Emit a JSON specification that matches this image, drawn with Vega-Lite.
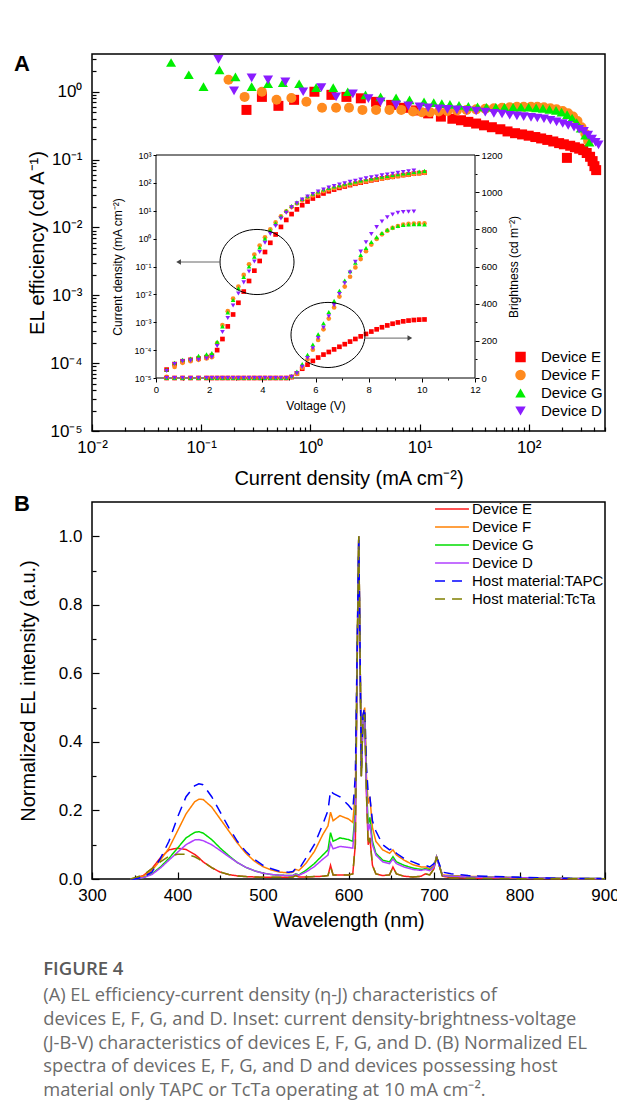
{
"$schema": "https://vega.github.io/schema/vega-lite/v6.json",
"background": "white",
"padding": {"left": 13, "top": 49, "right": 13, "bottom": 10},
"bounds": "flush",
"spacing": 71,
"resolve": {"scale": {"color": "independent", "shape": "independent", "strokeDash": "independent", "strokeWidth": "independent"}, "legend": {"color": "independent", "shape": "independent", "strokeDash": "independent", "strokeWidth": "independent"}},
"config": {
 "view": {"stroke": "black", "strokeWidth": 1.5},
 "axis": {"domain": false, "grid": false, "ticks": true, "tickColor": "black", "labelColor": "black", "titleColor": "black", "labelFont": "Liberation Sans", "titleFont": "Liberation Sans", "titleFontWeight": "normal", "labelFlush": false, "labelOverlap": false, "tickWidth": 1.2},
 "legend": {"labelFont": "Liberation Sans", "labelColor": "black"}
},
"title": {
 "text": "FIGURE 4",
 "subtitle": ["(A) EL efficiency-current density (η-J) characteristics of", "devices E, F, G, and D. Inset: current density-brightness-voltage", "(J-B-V) characteristics of devices E, F, G, and D. (B) Normalized EL", "spectra of devices E, F, G, and D and devices possessing host", "material only TAPC or TcTa operating at 10 mA cm⁻²."],
 "orient": "bottom", "anchor": "start", "frame": "bounds", "offset": 29, "dx": 30,
 "font": "Open Sans", "fontSize": 18.5, "fontWeight": 600, "color": "#5a5a5a",
 "subtitleFont": "Open Sans", "subtitleFontSize": 18.3, "subtitleColor": "#6b6b6b", "subtitleLineHeight": 23.7, "subtitlePadding": 9
},
"datasets": {
 "main": [
  {"d":"E","J":0.26,"eta":0.54},{"d":"E","J":0.36,"eta":0.84},{"d":"E","J":0.51,"eta":0.62},{"d":"E","J":0.71,"eta":0.76},{"d":"E","J":1.09,"eta":1.0},{"d":"E","J":1.56,"eta":0.9},{"d":"E","J":2.14,"eta":0.84},{"d":"E","J":2.9,"eta":0.8},{"d":"E","J":4.0,"eta":0.71},{"d":"E","J":5.5,"eta":0.64},{"d":"E","J":7.2,"eta":0.58},{"d":"E","J":9.3,"eta":0.53},{"d":"E","J":12,"eta":0.48},{"d":"E","J":15.7,"eta":0.43},{"d":"E","J":20,"eta":0.4},{"d":"E","J":24,"eta":0.38},{"d":"E","J":28,"eta":0.36},{"d":"E","J":33,"eta":0.34},{"d":"E","J":39,"eta":0.32},{"d":"E","J":46,"eta":0.3},{"d":"E","J":55,"eta":0.28},{"d":"E","J":64,"eta":0.26},{"d":"E","J":75,"eta":0.245},{"d":"E","J":87,"eta":0.235},{"d":"E","J":100,"eta":0.225},{"d":"E","J":115,"eta":0.215},{"d":"E","J":130,"eta":0.205},{"d":"E","J":148,"eta":0.195},{"d":"E","J":168,"eta":0.185},{"d":"E","J":190,"eta":0.175},{"d":"E","J":210,"eta":0.168},{"d":"E","J":224,"eta":0.106},{"d":"E","J":240,"eta":0.16},{"d":"E","J":265,"eta":0.152},{"d":"E","J":290,"eta":0.145},{"d":"E","J":316,"eta":0.138},{"d":"E","J":340,"eta":0.125},{"d":"E","J":365,"eta":0.11},{"d":"E","J":385,"eta":0.095},{"d":"E","J":400,"eta":0.08},{"d":"E","J":415,"eta":0.07},
  {"d":"F","J":0.178,"eta":1.5},{"d":"F","J":0.25,"eta":0.84},{"d":"F","J":0.36,"eta":1.0},{"d":"F","J":0.49,"eta":0.76},{"d":"F","J":0.67,"eta":0.81},{"d":"F","J":0.92,"eta":0.71},{"d":"F","J":1.28,"eta":0.58},{"d":"F","J":1.72,"eta":0.58},{"d":"F","J":2.26,"eta":0.58},{"d":"F","J":3.0,"eta":0.54},{"d":"F","J":4.0,"eta":0.54},{"d":"F","J":5.3,"eta":0.54},{"d":"F","J":6.8,"eta":0.54},{"d":"F","J":8.7,"eta":0.51},{"d":"F","J":10.5,"eta":0.5},{"d":"F","J":12.5,"eta":0.5},{"d":"F","J":15,"eta":0.51},{"d":"F","J":18,"eta":0.52},{"d":"F","J":22,"eta":0.53},{"d":"F","J":27,"eta":0.54},{"d":"F","J":33,"eta":0.55},{"d":"F","J":40,"eta":0.56},{"d":"F","J":48,"eta":0.57},{"d":"F","J":57,"eta":0.58},{"d":"F","J":67,"eta":0.59},{"d":"F","J":78,"eta":0.6},{"d":"F","J":90,"eta":0.6},{"d":"F","J":105,"eta":0.6},{"d":"F","J":120,"eta":0.6},{"d":"F","J":138,"eta":0.59},{"d":"F","J":158,"eta":0.57},{"d":"F","J":180,"eta":0.55},{"d":"F","J":205,"eta":0.52},{"d":"F","J":230,"eta":0.48},{"d":"F","J":255,"eta":0.43},{"d":"F","J":280,"eta":0.37},{"d":"F","J":305,"eta":0.3},{"d":"F","J":330,"eta":0.24},{"d":"F","J":350,"eta":0.19},
  {"d":"G","J":0.053,"eta":2.7},{"d":"G","J":0.077,"eta":1.78},{"d":"G","J":0.105,"eta":1.19},{"d":"G","J":0.147,"eta":2.1},{"d":"G","J":0.206,"eta":1.66},{"d":"G","J":0.29,"eta":1.19},{"d":"G","J":0.41,"eta":1.31},{"d":"G","J":0.56,"eta":1.36},{"d":"G","J":0.79,"eta":1.31},{"d":"G","J":1.13,"eta":1.15},{"d":"G","J":1.62,"eta":1.15},{"d":"G","J":2.2,"eta":1.0},{"d":"G","J":3.2,"eta":0.9},{"d":"G","J":4.4,"eta":0.84},{"d":"G","J":6.1,"eta":0.81},{"d":"G","J":8.1,"eta":0.76},{"d":"G","J":11,"eta":0.71},{"d":"G","J":13.5,"eta":0.69},{"d":"G","J":16,"eta":0.67},{"d":"G","J":19,"eta":0.65},{"d":"G","J":23,"eta":0.63},{"d":"G","J":28,"eta":0.61},{"d":"G","J":34,"eta":0.6},{"d":"G","J":41,"eta":0.59},{"d":"G","J":50,"eta":0.59},{"d":"G","J":60,"eta":0.59},{"d":"G","J":72,"eta":0.59},{"d":"G","J":85,"eta":0.59},{"d":"G","J":100,"eta":0.59},{"d":"G","J":117,"eta":0.58},{"d":"G","J":135,"eta":0.57},{"d":"G","J":155,"eta":0.55},{"d":"G","J":178,"eta":0.53},{"d":"G","J":200,"eta":0.5},{"d":"G","J":225,"eta":0.46},{"d":"G","J":250,"eta":0.41},{"d":"G","J":275,"eta":0.35},{"d":"G","J":300,"eta":0.29},{"d":"G","J":330,"eta":0.23},{"d":"G","J":360,"eta":0.18},
  {"d":"D","J":0.144,"eta":3.0},{"d":"D","J":0.2,"eta":1.03},{"d":"D","J":0.29,"eta":1.6},{"d":"D","J":0.41,"eta":1.5},{"d":"D","J":0.59,"eta":1.4},{"d":"D","J":0.86,"eta":1.0},{"d":"D","J":1.26,"eta":1.15},{"d":"D","J":1.72,"eta":0.84},{"d":"D","J":2.45,"eta":0.93},{"d":"D","J":3.4,"eta":0.79},{"d":"D","J":4.4,"eta":0.71},{"d":"D","J":6.1,"eta":0.64},{"d":"D","J":7.9,"eta":0.62},{"d":"D","J":10,"eta":0.6},{"d":"D","J":12,"eta":0.58},{"d":"D","J":15,"eta":0.56},{"d":"D","J":18,"eta":0.55},{"d":"D","J":22,"eta":0.54},{"d":"D","J":27,"eta":0.53},{"d":"D","J":33,"eta":0.52},{"d":"D","J":40,"eta":0.5},{"d":"D","J":48,"eta":0.48},{"d":"D","J":57,"eta":0.47},{"d":"D","J":67,"eta":0.45},{"d":"D","J":78,"eta":0.44},{"d":"D","J":90,"eta":0.43},{"d":"D","J":105,"eta":0.42},{"d":"D","J":120,"eta":0.41},{"d":"D","J":138,"eta":0.4},{"d":"D","J":158,"eta":0.38},{"d":"D","J":180,"eta":0.36},{"d":"D","J":205,"eta":0.34},{"d":"D","J":230,"eta":0.32},{"d":"D","J":260,"eta":0.3},{"d":"D","J":290,"eta":0.28},{"d":"D","J":320,"eta":0.26},{"d":"D","J":350,"eta":0.23},{"d":"D","J":380,"eta":0.2},{"d":"D","J":410,"eta":0.18},{"d":"D","J":436,"eta":0.165}
 ],
 "inset": [
  {"d":"E","V":0.4,"J":2e-5,"B":0},{"d":"E","V":0.7,"J":3.16e-5,"B":0},{"d":"E","V":1.0,"J":4e-5,"B":0},{"d":"E","V":1.3,"J":4.5e-5,"B":0},{"d":"E","V":1.6,"J":5e-5,"B":0},{"d":"E","V":1.9,"J":5.6e-5,"B":0},{"d":"E","V":2.1,"J":6.3e-5,"B":0},{"d":"E","V":2.3,"J":1e-4,"B":0},{"d":"E","V":2.5,"J":2.5e-4,"B":0},{"d":"E","V":2.7,"J":7.1e-4,"B":0},{"d":"E","V":2.9,"J":1.9e-3,"B":0},{"d":"E","V":3.1,"J":5e-3,"B":0},{"d":"E","V":3.3,"J":0.0126,"B":0},{"d":"E","V":3.5,"J":0.0302,"B":0},{"d":"E","V":3.7,"J":0.0708,"B":0},{"d":"E","V":3.9,"J":0.158,"B":0},{"d":"E","V":4.1,"J":0.331,"B":0},{"d":"E","V":4.3,"J":0.708,"B":0},{"d":"E","V":4.5,"J":1.41,"B":0},{"d":"E","V":4.7,"J":2.63,"B":0},{"d":"E","V":4.9,"J":4.68,"B":0},{"d":"E","V":5.1,"J":7.59,"B":5},{"d":"E","V":5.3,"J":11.2,"B":25},{"d":"E","V":5.5,"J":15.8,"B":50},{"d":"E","V":5.7,"J":21.4,"B":72},{"d":"E","V":5.9,"J":27.5,"B":92},{"d":"E","V":6.1,"J":34.7,"B":110},{"d":"E","V":6.3,"J":41.7,"B":126},{"d":"E","V":6.5,"J":50.1,"B":140},{"d":"E","V":6.7,"J":57.5,"B":154},{"d":"E","V":6.9,"J":66.1,"B":168},{"d":"E","V":7.1,"J":74.1,"B":182},{"d":"E","V":7.3,"J":83.2,"B":196},{"d":"E","V":7.5,"J":93.3,"B":210},{"d":"E","V":7.7,"J":102,"B":224},{"d":"E","V":7.9,"J":112,"B":237},{"d":"E","V":8.1,"J":123,"B":250},{"d":"E","V":8.3,"J":132,"B":262},{"d":"E","V":8.5,"J":145,"B":273},{"d":"E","V":8.7,"J":155,"B":283},{"d":"E","V":8.9,"J":166,"B":292},{"d":"E","V":9.1,"J":178,"B":299},{"d":"E","V":9.3,"J":191,"B":305},{"d":"E","V":9.5,"J":200,"B":309},{"d":"E","V":9.7,"J":214,"B":312},{"d":"E","V":9.9,"J":224,"B":314},{"d":"E","V":10.1,"J":234,"B":315},
  {"d":"F","V":0.4,"J":1.1e-5,"B":0},{"d":"F","V":0.7,"J":2.5e-5,"B":0},{"d":"F","V":1.0,"J":3.5e-5,"B":0},{"d":"F","V":1.3,"J":4e-5,"B":0},{"d":"F","V":1.6,"J":4.5e-5,"B":0},{"d":"F","V":1.9,"J":5e-5,"B":0},{"d":"F","V":2.1,"J":5.6e-5,"B":0},{"d":"F","V":2.3,"J":1.78e-4,"B":0},{"d":"F","V":2.5,"J":7.9e-4,"B":0},{"d":"F","V":2.7,"J":2.5e-3,"B":0},{"d":"F","V":2.9,"J":7.1e-3,"B":0},{"d":"F","V":3.1,"J":0.019,"B":0},{"d":"F","V":3.3,"J":0.05,"B":0},{"d":"F","V":3.5,"J":0.12,"B":0},{"d":"F","V":3.7,"J":0.269,"B":0},{"d":"F","V":3.9,"J":0.562,"B":0},{"d":"F","V":4.1,"J":1.12,"B":0},{"d":"F","V":4.3,"J":2.14,"B":0},{"d":"F","V":4.5,"J":3.8,"B":0},{"d":"F","V":4.7,"J":6.31,"B":0},{"d":"F","V":4.9,"J":9.55,"B":0},{"d":"F","V":5.1,"J":13.5,"B":5},{"d":"F","V":5.3,"J":18.2,"B":22},{"d":"F","V":5.5,"J":23.4,"B":55},{"d":"F","V":5.7,"J":29.5,"B":100},{"d":"F","V":5.9,"J":35.5,"B":152},{"d":"F","V":6.1,"J":42.7,"B":205},{"d":"F","V":6.3,"J":50.1,"B":262},{"d":"F","V":6.5,"J":57.5,"B":320},{"d":"F","V":6.7,"J":64.6,"B":380},{"d":"F","V":6.9,"J":72.4,"B":438},{"d":"F","V":7.1,"J":79.4,"B":492},{"d":"F","V":7.3,"J":87.1,"B":545},{"d":"F","V":7.5,"J":95.5,"B":595},{"d":"F","V":7.7,"J":105,"B":640},{"d":"F","V":7.9,"J":115,"B":682},{"d":"F","V":8.1,"J":123,"B":718},{"d":"F","V":8.3,"J":132,"B":748},{"d":"F","V":8.5,"J":141,"B":773},{"d":"F","V":8.7,"J":151,"B":793},{"d":"F","V":8.9,"J":162,"B":808},{"d":"F","V":9.1,"J":174,"B":818},{"d":"F","V":9.3,"J":186,"B":825},{"d":"F","V":9.5,"J":195,"B":829},{"d":"F","V":9.7,"J":209,"B":831},{"d":"F","V":9.9,"J":219,"B":832},{"d":"F","V":10.1,"J":229,"B":832},
  {"d":"G","V":0.4,"J":2e-5,"B":0},{"d":"G","V":0.7,"J":3.5e-5,"B":0},{"d":"G","V":1.0,"J":4.5e-5,"B":0},{"d":"G","V":1.3,"J":5e-5,"B":0},{"d":"G","V":1.6,"J":6.3e-5,"B":0},{"d":"G","V":1.9,"J":7.1e-5,"B":0},{"d":"G","V":2.1,"J":7.9e-5,"B":0},{"d":"G","V":2.3,"J":2e-4,"B":0},{"d":"G","V":2.5,"J":7.1e-4,"B":0},{"d":"G","V":2.7,"J":2.24e-3,"B":0},{"d":"G","V":2.9,"J":6.3e-3,"B":0},{"d":"G","V":3.1,"J":0.0166,"B":0},{"d":"G","V":3.3,"J":0.0417,"B":0},{"d":"G","V":3.5,"J":0.1,"B":0},{"d":"G","V":3.7,"J":0.224,"B":0},{"d":"G","V":3.9,"J":0.479,"B":0},{"d":"G","V":4.1,"J":1.0,"B":0},{"d":"G","V":4.3,"J":2.0,"B":0},{"d":"G","V":4.5,"J":3.55,"B":0},{"d":"G","V":4.7,"J":6.31,"B":0},{"d":"G","V":4.9,"J":10,"B":0},{"d":"G","V":5.1,"J":14.8,"B":10},{"d":"G","V":5.3,"J":20,"B":35},{"d":"G","V":5.5,"J":26.3,"B":75},{"d":"G","V":5.7,"J":33.1,"B":125},{"d":"G","V":5.9,"J":40.7,"B":180},{"d":"G","V":6.1,"J":49,"B":235},{"d":"G","V":6.3,"J":57.5,"B":295},{"d":"G","V":6.5,"J":66,"B":355},{"d":"G","V":6.7,"J":74,"B":415},{"d":"G","V":6.9,"J":83,"B":470},{"d":"G","V":7.1,"J":93,"B":525},{"d":"G","V":7.3,"J":102,"B":575},{"d":"G","V":7.5,"J":112,"B":620},{"d":"G","V":7.7,"J":123,"B":662},{"d":"G","V":7.9,"J":135,"B":700},{"d":"G","V":8.1,"J":145,"B":732},{"d":"G","V":8.3,"J":155,"B":758},{"d":"G","V":8.5,"J":166,"B":780},{"d":"G","V":8.7,"J":178,"B":798},{"d":"G","V":8.9,"J":191,"B":810},{"d":"G","V":9.1,"J":204,"B":818},{"d":"G","V":9.3,"J":219,"B":823},{"d":"G","V":9.5,"J":229,"B":826},{"d":"G","V":9.7,"J":245,"B":828},{"d":"G","V":9.9,"J":257,"B":828},{"d":"G","V":10.1,"J":269,"B":826},
  {"d":"D","V":0.4,"J":1.78e-5,"B":0},{"d":"D","V":0.7,"J":3.16e-5,"B":0},{"d":"D","V":1.0,"J":4e-5,"B":0},{"d":"D","V":1.3,"J":4.2e-5,"B":0},{"d":"D","V":1.6,"J":4.5e-5,"B":0},{"d":"D","V":1.9,"J":5e-5,"B":0},{"d":"D","V":2.1,"J":5.6e-5,"B":0},{"d":"D","V":2.3,"J":1.41e-4,"B":0},{"d":"D","V":2.5,"J":4.5e-4,"B":0},{"d":"D","V":2.7,"J":1.41e-3,"B":0},{"d":"D","V":2.9,"J":3.98e-3,"B":0},{"d":"D","V":3.1,"J":0.0107,"B":0},{"d":"D","V":3.3,"J":0.0269,"B":0},{"d":"D","V":3.5,"J":0.066,"B":0},{"d":"D","V":3.7,"J":0.151,"B":0},{"d":"D","V":3.9,"J":0.331,"B":0},{"d":"D","V":4.1,"J":0.708,"B":0},{"d":"D","V":4.3,"J":1.48,"B":0},{"d":"D","V":4.5,"J":2.82,"B":0},{"d":"D","V":4.7,"J":5.25,"B":0},{"d":"D","V":4.9,"J":8.51,"B":0},{"d":"D","V":5.1,"J":13.2,"B":6},{"d":"D","V":5.3,"J":18.6,"B":25},{"d":"D","V":5.5,"J":25.1,"B":60},{"d":"D","V":5.7,"J":32.4,"B":108},{"d":"D","V":5.9,"J":39.8,"B":160},{"d":"D","V":6.1,"J":49,"B":215},{"d":"D","V":6.3,"J":57.5,"B":272},{"d":"D","V":6.5,"J":67.6,"B":332},{"d":"D","V":6.7,"J":77.6,"B":392},{"d":"D","V":6.9,"J":87.1,"B":452},{"d":"D","V":7.1,"J":97.7,"B":510},{"d":"D","V":7.3,"J":110,"B":568},{"d":"D","V":7.5,"J":120,"B":625},{"d":"D","V":7.7,"J":132,"B":680},{"d":"D","V":7.9,"J":145,"B":730},{"d":"D","V":8.1,"J":158,"B":775},{"d":"D","V":8.3,"J":170,"B":812},{"d":"D","V":8.5,"J":186,"B":842},{"d":"D","V":8.7,"J":200,"B":865},{"d":"D","V":8.9,"J":214,"B":880},{"d":"D","V":9.1,"J":229,"B":889},{"d":"D","V":9.3,"J":245,"B":893},{"d":"D","V":9.5,"J":263,"B":895},{"d":"D","V":9.7,"J":275,"B":896}
 ],
 "spec": [
  {"s":"E","w":345,"i":0},{"s":"E","w":350,"i":0.002},{"s":"E","w":360,"i":0.01},{"s":"E","w":370,"i":0.03},{"s":"E","w":380,"i":0.062},{"s":"E","w":390,"i":0.085},{"s":"E","w":400,"i":0.09},{"s":"E","w":410,"i":0.086},{"s":"E","w":420,"i":0.072},{"s":"E","w":425,"i":0.062},{"s":"E","w":430,"i":0.05},{"s":"E","w":440,"i":0.033},{"s":"E","w":450,"i":0.02},{"s":"E","w":460,"i":0.013},{"s":"E","w":470,"i":0.009},{"s":"E","w":480,"i":0.007},{"s":"E","w":490,"i":0.006},{"s":"E","w":500,"i":0.005},{"s":"E","w":510,"i":0.005},{"s":"E","w":520,"i":0.005},{"s":"E","w":530,"i":0.005},{"s":"E","w":535,"i":0.006},{"s":"E","w":538,"i":0.01},{"s":"E","w":542,"i":0.006},{"s":"E","w":550,"i":0.006},{"s":"E","w":560,"i":0.007},{"s":"E","w":570,"i":0.008},{"s":"E","w":576,"i":0.01},{"s":"E","w":579,"i":0.04},{"s":"E","w":582,"i":0.012},{"s":"E","w":590,"i":0.012},{"s":"E","w":600,"i":0.012},{"s":"E","w":605,"i":0.015},{"s":"E","w":608,"i":0.1},{"s":"E","w":610,"i":0.6},{"s":"E","w":612,"i":1.0},{"s":"E","w":614,"i":0.55},{"s":"E","w":615,"i":0.3},{"s":"E","w":617,"i":0.47},{"s":"E","w":619,"i":0.48},{"s":"E","w":621,"i":0.25},{"s":"E","w":623,"i":0.1},{"s":"E","w":625,"i":0.12},{"s":"E","w":628,"i":0.04},{"s":"E","w":632,"i":0.015},{"s":"E","w":640,"i":0.01},{"s":"E","w":648,"i":0.012},{"s":"E","w":652,"i":0.035},{"s":"E","w":656,"i":0.015},{"s":"E","w":665,"i":0.008},{"s":"E","w":675,"i":0.006},{"s":"E","w":685,"i":0.008},{"s":"E","w":690,"i":0.015},{"s":"E","w":695,"i":0.012},{"s":"E","w":700,"i":0.03},{"s":"E","w":703,"i":0.065},{"s":"E","w":706,"i":0.04},{"s":"E","w":710,"i":0.008},{"s":"E","w":720,"i":0.004},{"s":"E","w":740,"i":0.003},{"s":"E","w":760,"i":0.002},{"s":"E","w":800,"i":0.002},{"s":"E","w":850,"i":0.001},{"s":"E","w":900,"i":0.001},
  {"s":"F","w":345,"i":0},{"s":"F","w":350,"i":0.001},{"s":"F","w":360,"i":0.008},{"s":"F","w":370,"i":0.025},{"s":"F","w":380,"i":0.055},{"s":"F","w":390,"i":0.09},{"s":"F","w":400,"i":0.14},{"s":"F","w":410,"i":0.19},{"s":"F","w":420,"i":0.225},{"s":"F","w":425,"i":0.233},{"s":"F","w":430,"i":0.232},{"s":"F","w":440,"i":0.21},{"s":"F","w":450,"i":0.175},{"s":"F","w":460,"i":0.14},{"s":"F","w":470,"i":0.105},{"s":"F","w":480,"i":0.075},{"s":"F","w":490,"i":0.052},{"s":"F","w":500,"i":0.036},{"s":"F","w":510,"i":0.026},{"s":"F","w":520,"i":0.02},{"s":"F","w":530,"i":0.018},{"s":"F","w":535,"i":0.02},{"s":"F","w":538,"i":0.028},{"s":"F","w":542,"i":0.025},{"s":"F","w":550,"i":0.045},{"s":"F","w":560,"i":0.08},{"s":"F","w":570,"i":0.13},{"s":"F","w":576,"i":0.155},{"s":"F","w":579,"i":0.195},{"s":"F","w":582,"i":0.17},{"s":"F","w":590,"i":0.185},{"s":"F","w":600,"i":0.175},{"s":"F","w":605,"i":0.165},{"s":"F","w":608,"i":0.25},{"s":"F","w":610,"i":0.65},{"s":"F","w":612,"i":1.0},{"s":"F","w":614,"i":0.55},{"s":"F","w":615,"i":0.32},{"s":"F","w":617,"i":0.48},{"s":"F","w":619,"i":0.5},{"s":"F","w":621,"i":0.3},{"s":"F","w":623,"i":0.22},{"s":"F","w":625,"i":0.24},{"s":"F","w":628,"i":0.15},{"s":"F","w":632,"i":0.11},{"s":"F","w":640,"i":0.085},{"s":"F","w":648,"i":0.075},{"s":"F","w":652,"i":0.085},{"s":"F","w":656,"i":0.07},{"s":"F","w":665,"i":0.055},{"s":"F","w":675,"i":0.042},{"s":"F","w":685,"i":0.035},{"s":"F","w":690,"i":0.035},{"s":"F","w":695,"i":0.03},{"s":"F","w":700,"i":0.04},{"s":"F","w":703,"i":0.065},{"s":"F","w":706,"i":0.04},{"s":"F","w":710,"i":0.012},{"s":"F","w":720,"i":0.01},{"s":"F","w":740,"i":0.008},{"s":"F","w":760,"i":0.006},{"s":"F","w":800,"i":0.004},{"s":"F","w":850,"i":0.002},{"s":"F","w":900,"i":0.001},
  {"s":"G","w":345,"i":0},{"s":"G","w":350,"i":0},{"s":"G","w":360,"i":0.004},{"s":"G","w":370,"i":0.015},{"s":"G","w":380,"i":0.035},{"s":"G","w":390,"i":0.06},{"s":"G","w":400,"i":0.09},{"s":"G","w":410,"i":0.12},{"s":"G","w":420,"i":0.136},{"s":"G","w":425,"i":0.138},{"s":"G","w":430,"i":0.134},{"s":"G","w":440,"i":0.115},{"s":"G","w":450,"i":0.09},{"s":"G","w":460,"i":0.068},{"s":"G","w":470,"i":0.048},{"s":"G","w":480,"i":0.034},{"s":"G","w":490,"i":0.024},{"s":"G","w":500,"i":0.017},{"s":"G","w":510,"i":0.013},{"s":"G","w":520,"i":0.011},{"s":"G","w":530,"i":0.01},{"s":"G","w":535,"i":0.01},{"s":"G","w":538,"i":0.015},{"s":"G","w":542,"i":0.012},{"s":"G","w":550,"i":0.025},{"s":"G","w":560,"i":0.045},{"s":"G","w":570,"i":0.07},{"s":"G","w":576,"i":0.085},{"s":"G","w":579,"i":0.135},{"s":"G","w":582,"i":0.11},{"s":"G","w":590,"i":0.12},{"s":"G","w":600,"i":0.115},{"s":"G","w":605,"i":0.11},{"s":"G","w":608,"i":0.2},{"s":"G","w":610,"i":0.62},{"s":"G","w":612,"i":1.0},{"s":"G","w":614,"i":0.55},{"s":"G","w":615,"i":0.3},{"s":"G","w":617,"i":0.47},{"s":"G","w":619,"i":0.48},{"s":"G","w":621,"i":0.27},{"s":"G","w":623,"i":0.16},{"s":"G","w":625,"i":0.18},{"s":"G","w":628,"i":0.11},{"s":"G","w":632,"i":0.075},{"s":"G","w":640,"i":0.055},{"s":"G","w":648,"i":0.05},{"s":"G","w":652,"i":0.065},{"s":"G","w":656,"i":0.05},{"s":"G","w":665,"i":0.04},{"s":"G","w":675,"i":0.032},{"s":"G","w":685,"i":0.028},{"s":"G","w":690,"i":0.03},{"s":"G","w":695,"i":0.027},{"s":"G","w":700,"i":0.035},{"s":"G","w":703,"i":0.065},{"s":"G","w":706,"i":0.04},{"s":"G","w":710,"i":0.01},{"s":"G","w":720,"i":0.008},{"s":"G","w":740,"i":0.006},{"s":"G","w":760,"i":0.005},{"s":"G","w":800,"i":0.004},{"s":"G","w":850,"i":0.002},{"s":"G","w":900,"i":0.001},
  {"s":"D","w":345,"i":0},{"s":"D","w":350,"i":0},{"s":"D","w":360,"i":0.004},{"s":"D","w":370,"i":0.013},{"s":"D","w":380,"i":0.032},{"s":"D","w":390,"i":0.055},{"s":"D","w":400,"i":0.078},{"s":"D","w":410,"i":0.1},{"s":"D","w":420,"i":0.114},{"s":"D","w":425,"i":0.115},{"s":"D","w":430,"i":0.112},{"s":"D","w":440,"i":0.1},{"s":"D","w":450,"i":0.083},{"s":"D","w":460,"i":0.065},{"s":"D","w":470,"i":0.048},{"s":"D","w":480,"i":0.034},{"s":"D","w":490,"i":0.024},{"s":"D","w":500,"i":0.017},{"s":"D","w":510,"i":0.013},{"s":"D","w":520,"i":0.011},{"s":"D","w":530,"i":0.01},{"s":"D","w":535,"i":0.01},{"s":"D","w":538,"i":0.014},{"s":"D","w":542,"i":0.011},{"s":"D","w":550,"i":0.02},{"s":"D","w":560,"i":0.036},{"s":"D","w":570,"i":0.058},{"s":"D","w":576,"i":0.07},{"s":"D","w":579,"i":0.105},{"s":"D","w":582,"i":0.088},{"s":"D","w":590,"i":0.095},{"s":"D","w":600,"i":0.092},{"s":"D","w":605,"i":0.09},{"s":"D","w":608,"i":0.18},{"s":"D","w":610,"i":0.6},{"s":"D","w":612,"i":1.0},{"s":"D","w":614,"i":0.55},{"s":"D","w":615,"i":0.3},{"s":"D","w":617,"i":0.47},{"s":"D","w":619,"i":0.48},{"s":"D","w":621,"i":0.26},{"s":"D","w":623,"i":0.14},{"s":"D","w":625,"i":0.16},{"s":"D","w":628,"i":0.1},{"s":"D","w":632,"i":0.07},{"s":"D","w":640,"i":0.05},{"s":"D","w":648,"i":0.045},{"s":"D","w":652,"i":0.058},{"s":"D","w":656,"i":0.045},{"s":"D","w":665,"i":0.035},{"s":"D","w":675,"i":0.028},{"s":"D","w":685,"i":0.025},{"s":"D","w":690,"i":0.028},{"s":"D","w":695,"i":0.024},{"s":"D","w":700,"i":0.035},{"s":"D","w":703,"i":0.065},{"s":"D","w":706,"i":0.04},{"s":"D","w":710,"i":0.01},{"s":"D","w":720,"i":0.008},{"s":"D","w":740,"i":0.006},{"s":"D","w":760,"i":0.005},{"s":"D","w":800,"i":0.004},{"s":"D","w":850,"i":0.002},{"s":"D","w":900,"i":0.001},
  {"s":"TAPC","w":345,"i":0},{"s":"TAPC","w":350,"i":0},{"s":"TAPC","w":360,"i":0.006},{"s":"TAPC","w":370,"i":0.02},{"s":"TAPC","w":380,"i":0.06},{"s":"TAPC","w":390,"i":0.11},{"s":"TAPC","w":400,"i":0.18},{"s":"TAPC","w":410,"i":0.24},{"s":"TAPC","w":420,"i":0.272},{"s":"TAPC","w":425,"i":0.278},{"s":"TAPC","w":430,"i":0.275},{"s":"TAPC","w":440,"i":0.24},{"s":"TAPC","w":450,"i":0.195},{"s":"TAPC","w":460,"i":0.15},{"s":"TAPC","w":470,"i":0.11},{"s":"TAPC","w":480,"i":0.08},{"s":"TAPC","w":490,"i":0.057},{"s":"TAPC","w":500,"i":0.04},{"s":"TAPC","w":510,"i":0.03},{"s":"TAPC","w":520,"i":0.022},{"s":"TAPC","w":530,"i":0.02},{"s":"TAPC","w":535,"i":0.022},{"s":"TAPC","w":538,"i":0.03},{"s":"TAPC","w":542,"i":0.028},{"s":"TAPC","w":550,"i":0.06},{"s":"TAPC","w":560,"i":0.1},{"s":"TAPC","w":570,"i":0.16},{"s":"TAPC","w":576,"i":0.2},{"s":"TAPC","w":579,"i":0.258},{"s":"TAPC","w":582,"i":0.25},{"s":"TAPC","w":590,"i":0.24},{"s":"TAPC","w":600,"i":0.215},{"s":"TAPC","w":605,"i":0.2},{"s":"TAPC","w":608,"i":0.3},{"s":"TAPC","w":610,"i":0.65},{"s":"TAPC","w":612,"i":1.0},{"s":"TAPC","w":614,"i":0.55},{"s":"TAPC","w":615,"i":0.33},{"s":"TAPC","w":617,"i":0.48},{"s":"TAPC","w":619,"i":0.5},{"s":"TAPC","w":621,"i":0.33},{"s":"TAPC","w":623,"i":0.25},{"s":"TAPC","w":625,"i":0.24},{"s":"TAPC","w":628,"i":0.17},{"s":"TAPC","w":632,"i":0.14},{"s":"TAPC","w":640,"i":0.1},{"s":"TAPC","w":648,"i":0.085},{"s":"TAPC","w":652,"i":0.09},{"s":"TAPC","w":656,"i":0.075},{"s":"TAPC","w":665,"i":0.06},{"s":"TAPC","w":675,"i":0.05},{"s":"TAPC","w":685,"i":0.04},{"s":"TAPC","w":690,"i":0.04},{"s":"TAPC","w":695,"i":0.035},{"s":"TAPC","w":700,"i":0.045},{"s":"TAPC","w":703,"i":0.065},{"s":"TAPC","w":706,"i":0.045},{"s":"TAPC","w":710,"i":0.02},{"s":"TAPC","w":720,"i":0.015},{"s":"TAPC","w":740,"i":0.01},{"s":"TAPC","w":760,"i":0.008},{"s":"TAPC","w":800,"i":0.005},{"s":"TAPC","w":850,"i":0.002},{"s":"TAPC","w":900,"i":0.001},
  {"s":"TcTa","w":345,"i":0},{"s":"TcTa","w":350,"i":0.004},{"s":"TcTa","w":360,"i":0.012},{"s":"TcTa","w":370,"i":0.03},{"s":"TcTa","w":380,"i":0.05},{"s":"TcTa","w":390,"i":0.066},{"s":"TcTa","w":400,"i":0.072},{"s":"TcTa","w":410,"i":0.072},{"s":"TcTa","w":420,"i":0.065},{"s":"TcTa","w":425,"i":0.058},{"s":"TcTa","w":430,"i":0.05},{"s":"TcTa","w":440,"i":0.033},{"s":"TcTa","w":450,"i":0.02},{"s":"TcTa","w":460,"i":0.013},{"s":"TcTa","w":470,"i":0.009},{"s":"TcTa","w":480,"i":0.007},{"s":"TcTa","w":490,"i":0.006},{"s":"TcTa","w":500,"i":0.005},{"s":"TcTa","w":510,"i":0.005},{"s":"TcTa","w":520,"i":0.005},{"s":"TcTa","w":530,"i":0.005},{"s":"TcTa","w":535,"i":0.006},{"s":"TcTa","w":538,"i":0.01},{"s":"TcTa","w":542,"i":0.006},{"s":"TcTa","w":550,"i":0.006},{"s":"TcTa","w":560,"i":0.007},{"s":"TcTa","w":570,"i":0.008},{"s":"TcTa","w":576,"i":0.01},{"s":"TcTa","w":579,"i":0.035},{"s":"TcTa","w":582,"i":0.012},{"s":"TcTa","w":590,"i":0.012},{"s":"TcTa","w":600,"i":0.012},{"s":"TcTa","w":605,"i":0.015},{"s":"TcTa","w":608,"i":0.1},{"s":"TcTa","w":610,"i":0.6},{"s":"TcTa","w":612,"i":1.0},{"s":"TcTa","w":614,"i":0.55},{"s":"TcTa","w":615,"i":0.3},{"s":"TcTa","w":617,"i":0.47},{"s":"TcTa","w":619,"i":0.48},{"s":"TcTa","w":621,"i":0.25},{"s":"TcTa","w":623,"i":0.1},{"s":"TcTa","w":625,"i":0.12},{"s":"TcTa","w":628,"i":0.04},{"s":"TcTa","w":632,"i":0.015},{"s":"TcTa","w":640,"i":0.01},{"s":"TcTa","w":648,"i":0.012},{"s":"TcTa","w":652,"i":0.035},{"s":"TcTa","w":656,"i":0.015},{"s":"TcTa","w":665,"i":0.008},{"s":"TcTa","w":675,"i":0.006},{"s":"TcTa","w":685,"i":0.008},{"s":"TcTa","w":690,"i":0.015},{"s":"TcTa","w":695,"i":0.012},{"s":"TcTa","w":700,"i":0.03},{"s":"TcTa","w":703,"i":0.065},{"s":"TcTa","w":706,"i":0.04},{"s":"TcTa","w":710,"i":0.005},{"s":"TcTa","w":720,"i":0.003},{"s":"TcTa","w":740,"i":0.002},{"s":"TcTa","w":760,"i":0.002},{"s":"TcTa","w":800,"i":0.001},{"s":"TcTa","w":850,"i":0.001},{"s":"TcTa","w":900,"i":0.001}
 ]
},
"vconcat": [
 {
  "width": 513, "height": 377,
  "title": {"text": "A", "anchor": "start", "frame": "group", "orient": "top", "dx": -78, "offset": -26, "fontSize": 22, "fontWeight": "bold", "font": "Liberation Sans", "color": "black"},
  "resolve": {"scale": {"x": "independent", "y": "independent"}},
  "layer": [
   {
    "data": {"name": "main"},
    "mark": {"type": "point", "filled": true, "size": 100, "opacity": 1},
    "encoding": {
     "x": {"field": "J", "type": "quantitative", "scale": {"type": "log", "domain": [0.01, 500], "nice": false},
      "axis": {"orient": "bottom", "values": [0.01,0.02,0.03,0.04,0.05,0.06,0.07,0.08,0.09,0.1,0.2,0.3,0.4,0.5,0.6,0.7,0.8,0.9,1,2,3,4,5,6,7,8,9,10,20,30,40,50,60,70,80,90,100,200,300,400,500],
       "tickSize": {"condition": {"test": "abs(log(datum.value)/LN10 - round(log(datum.value)/LN10)) < 0.01", "value": -7}, "value": -4},
       "labelExpr": "abs(log(datum.value)/LN10 - round(log(datum.value)/LN10)) < 0.01 ? '10' + (datum.value < 0.99 ? '⁻' : '') + ['⁰','¹','²','³','⁴','⁵'][abs(round(log(datum.value)/LN10))] : ''",
       "labelFontSize": 17, "labelPadding": 15, "title": "Current density (mA cm⁻²)", "titleFontSize": 20, "titlePadding": 10}},
     "y": {"field": "eta", "type": "quantitative", "scale": {"type": "log", "domain": [0.00001, 3.6], "nice": false},
      "axis": {"orient": "left", "values": [0.00001,0.00002,0.00003,0.00004,0.00005,0.00006,0.00007,0.00008,0.00009,0.0001,0.0002,0.0003,0.0004,0.0005,0.0006,0.0007,0.0008,0.0009,0.001,0.002,0.003,0.004,0.005,0.006,0.007,0.008,0.009,0.01,0.02,0.03,0.04,0.05,0.06,0.07,0.08,0.09,0.1,0.2,0.3,0.4,0.5,0.6,0.7,0.8,0.9,1,2,3],
       "tickSize": {"condition": {"test": "abs(log(datum.value)/LN10 - round(log(datum.value)/LN10)) < 0.01", "value": -7}, "value": -4},
       "labelExpr": "abs(log(datum.value)/LN10 - round(log(datum.value)/LN10)) < 0.01 ? '10' + (datum.value < 0.99 ? '⁻' : '') + ['⁰','¹','²','³','⁴','⁵'][abs(round(log(datum.value)/LN10))] : ''",
       "labelFontSize": 17, "labelPadding": 17, "title": "EL efficiency (cd A⁻¹)", "titleFontSize": 20, "titlePadding": 2}},
     "color": {"field": "d", "type": "nominal", "scale": {"domain": ["E","F","G","D"], "range": ["#ff0000","#ff8a1e","#00ee00","#8a1cff"]},
      "legend": {"orient": "none", "legendX": 421, "legendY": 294, "title": null, "labelFontSize": 15, "symbolSize": 110, "clipHeight": 18, "rowPadding": 0, "labelOffset": 13, "labelExpr": "'Device ' + datum.label"}},
     "shape": {"field": "d", "type": "nominal", "scale": {"domain": ["E","F","G","D"], "range": ["square","circle","triangle-up","triangle-down"]},
      "legend": {"orient": "none", "legendX": 421, "legendY": 294, "title": null, "labelFontSize": 15, "symbolSize": 110, "clipHeight": 18, "rowPadding": 0, "labelOffset": 13, "labelExpr": "'Device ' + datum.label"}}
    }
   },
   {
    "data": {"values": [{"frame": "inset"}]},
    "mark": {"type": "rect", "fill": "white", "fillOpacity": 0, "stroke": "black", "strokeWidth": 1},
    "encoding": {
     "x": {"datum": 0, "type": "quantitative", "scale": {"domain": [0, 12], "range": [64, 383], "nice": false, "zero": false}, "axis": null},
     "x2": {"datum": 12},
     "y": {"datum": 0.00001, "type": "quantitative", "scale": {"type": "log", "domain": [0.00001, 1000], "range": [324, 101], "nice": false}, "axis": null},
     "y2": {"datum": 1000}
    }
   },
   {
    "data": {"name": "inset"},
    "mark": {"type": "point", "filled": true, "size": 22, "opacity": 1},
    "encoding": {
     "x": {"field": "V", "type": "quantitative", "scale": {"domain": [0, 12], "range": [64, 383], "nice": false, "zero": false},
      "axis": {"orient": "bottom", "offset": -53, "values": [0,1,2,3,4,5,6,7,8,9,10,11,12], "tickSize": {"condition": {"test": "datum.value % 2 == 0", "value": 4}, "value": 2}, "tickWidth": 1, "labelExpr": "datum.value % 2 == 0 ? datum.label : ''", "labelFontSize": 9.5, "labelPadding": 2, "title": "Voltage (V)", "titleFontSize": 12, "titlePadding": 7}},
     "y": {"field": "J", "type": "quantitative", "scale": {"type": "log", "domain": [0.00001, 1000], "range": [324, 101], "nice": false},
      "axis": {"orient": "left", "offset": -64, "values": [0.00001,0.0001,0.001,0.01,0.1,1,10,100,1000], "tickSize": 3, "tickWidth": 1,
       "labelExpr": "'10' + (datum.value < 0.99 ? '⁻' : '') + ['⁰','¹','²','³','⁴','⁵'][abs(round(log(datum.value)/LN10))]",
       "labelFontSize": 9, "labelPadding": 2, "title": "Current density (mA cm⁻²)", "titleFontSize": 12, "titlePadding": 10}},
     "color": {"field": "d", "type": "nominal"},
     "shape": {"field": "d", "type": "nominal"}
    }
   },
   {
    "data": {"name": "inset"},
    "mark": {"type": "point", "filled": true, "size": 22, "opacity": 1},
    "encoding": {
     "x": {"field": "V", "type": "quantitative", "scale": {"domain": [0, 12], "range": [64, 383], "nice": false, "zero": false}, "axis": null},
     "y": {"field": "B", "type": "quantitative", "scale": {"domain": [0, 1200], "range": [324, 101], "nice": false, "zero": false},
      "axis": {"orient": "right", "offset": -130, "values": [0,100,200,300,400,500,600,700,800,900,1000,1100,1200], "tickSize": {"condition": {"test": "datum.value % 200 == 0", "value": 4}, "value": 2}, "tickWidth": 1,
       "labelExpr": "datum.value % 200 == 0 ? format(datum.value, 'd') : ''", "labelFontSize": 9.5, "labelPadding": 2, "title": "Brightness (cd m⁻²)", "titleFontSize": 12, "titlePadding": 18, "titleAngle": 270}},
     "color": {"field": "d", "type": "nominal"},
     "shape": {"field": "d", "type": "nominal"}
    }
   },
   {
    "data": {"values": [{"V": 3.8, "J": 0.145}, {"V": 6.47, "J": 0.00035}]},
    "mark": {"type": "point", "shape": "M-1,0A1,0.88,0,1,0,1,0A1,0.88,0,1,0,-1,0Z", "size": 5476, "filled": false, "stroke": "black", "strokeWidth": 1, "opacity": 1},
    "encoding": {
     "x": {"field": "V", "type": "quantitative", "scale": {"domain": [0, 12], "range": [64, 383], "nice": false, "zero": false}, "axis": null},
     "y": {"field": "J", "type": "quantitative", "scale": {"type": "log", "domain": [0.00001, 1000], "range": [324, 101], "nice": false}, "axis": null}
    }
   },
   {
    "data": {"values": [{"V1": 2.41, "V2": 0.9, "J": 0.145}, {"V1": 7.86, "V2": 9.5, "J": 0.00027}]},
    "mark": {"type": "rule", "color": "#666666", "strokeWidth": 1},
    "encoding": {
     "x": {"field": "V1", "type": "quantitative", "scale": {"domain": [0, 12], "range": [64, 383], "nice": false, "zero": false}, "axis": null},
     "x2": {"field": "V2"},
     "y": {"field": "J", "type": "quantitative", "scale": {"type": "log", "domain": [0.00001, 1000], "range": [324, 101], "nice": false}, "axis": null}
    }
   },
   {
    "data": {"values": [{"V": 0.85, "J": 0.145}]},
    "mark": {"type": "point", "shape": "triangle-left", "size": 30, "filled": true, "color": "#444444", "opacity": 1},
    "encoding": {
     "x": {"field": "V", "type": "quantitative", "scale": {"domain": [0, 12], "range": [64, 383], "nice": false, "zero": false}, "axis": null},
     "y": {"field": "J", "type": "quantitative", "scale": {"type": "log", "domain": [0.00001, 1000], "range": [324, 101], "nice": false}, "axis": null}
    }
   },
   {
    "data": {"values": [{"V": 9.55, "J": 0.00027}]},
    "mark": {"type": "point", "shape": "triangle-right", "size": 30, "filled": true, "color": "#444444", "opacity": 1},
    "encoding": {
     "x": {"field": "V", "type": "quantitative", "scale": {"domain": [0, 12], "range": [64, 383], "nice": false, "zero": false}, "axis": null},
     "y": {"field": "J", "type": "quantitative", "scale": {"type": "log", "domain": [0.00001, 1000], "range": [324, 101], "nice": false}, "axis": null}
    }
   }
  ]
 },
 {
  "width": 513, "height": 377,
  "title": {"text": "B", "anchor": "start", "frame": "group", "orient": "top", "dx": -78, "offset": -16, "fontSize": 22, "fontWeight": "bold", "font": "Liberation Sans", "color": "black"},
  "data": {"name": "spec"},
  "mark": {"type": "line"},
  "encoding": {
   "x": {"field": "w", "type": "quantitative", "scale": {"domain": [300, 900], "nice": false, "zero": false},
    "axis": {"values": [300,350,400,450,500,550,600,650,700,750,800,850,900], "tickSize": {"condition": {"test": "datum.value % 100 == 0", "value": -7}, "value": -4}, "labelExpr": "datum.value % 100 == 0 ? datum.label : ''", "labelFontSize": 17, "labelPadding": 15, "title": "Wavelength (nm)", "titleFontSize": 20, "titlePadding": 4}},
   "y": {"field": "i", "type": "quantitative", "scale": {"domain": [0, 1.1], "nice": false},
    "axis": {"values": [0,0.1,0.2,0.3,0.4,0.5,0.6,0.7,0.8,0.9,1.0], "tickSize": {"condition": {"test": "round(datum.value*10) % 2 == 0", "value": -7}, "value": -4}, "labelExpr": "round(datum.value*10) % 2 == 0 ? format(datum.value, '.1f') : ''", "labelFontSize": 17, "labelPadding": 17, "title": "Normalized EL intensity (a.u.)", "titleFontSize": 20, "titlePadding": 20}},
   "color": {"field": "s", "type": "nominal", "scale": {"domain": ["E","F","G","D","TAPC","TcTa"], "range": ["#ff1a1a","#ff8000","#00dd00","#b040ff","#0000ff","#808000"]},
    "legend": {"orient": "none", "legendX": 342, "legendY": -2, "title": null, "labelFontSize": 15, "symbolType": "stroke", "symbolSize": 1150, "clipHeight": 18, "rowPadding": 0, "labelOffset": 2, "labelExpr": "length(datum.label) == 1 ? 'Device ' + datum.label : 'Host material:' + datum.label"}},
   "strokeDash": {"field": "s", "type": "nominal", "scale": {"domain": ["E","F","G","D","TAPC","TcTa"], "range": [[1,0],[1,0],[1,0],[1,0],[10,7],[10,7]]},
    "legend": {"orient": "none", "legendX": 342, "legendY": -2, "title": null, "labelFontSize": 15, "symbolType": "stroke", "symbolSize": 1150, "clipHeight": 18, "rowPadding": 0, "labelOffset": 2, "labelExpr": "length(datum.label) == 1 ? 'Device ' + datum.label : 'Host material:' + datum.label"}},
   "strokeWidth": {"field": "s", "type": "ordinal", "scale": {"domain": ["E","F","G","D","TAPC","TcTa"], "range": [1.5,1.5,1.5,1.5,3,3]},
    "legend": {"orient": "none", "legendX": 342, "legendY": -2, "title": null, "labelFontSize": 15, "symbolType": "stroke", "symbolSize": 1150, "clipHeight": 18, "rowPadding": 0, "labelOffset": 2, "labelExpr": "length(datum.label) == 1 ? 'Device ' + datum.label : 'Host material:' + datum.label"}}
  }
 }
]
}
